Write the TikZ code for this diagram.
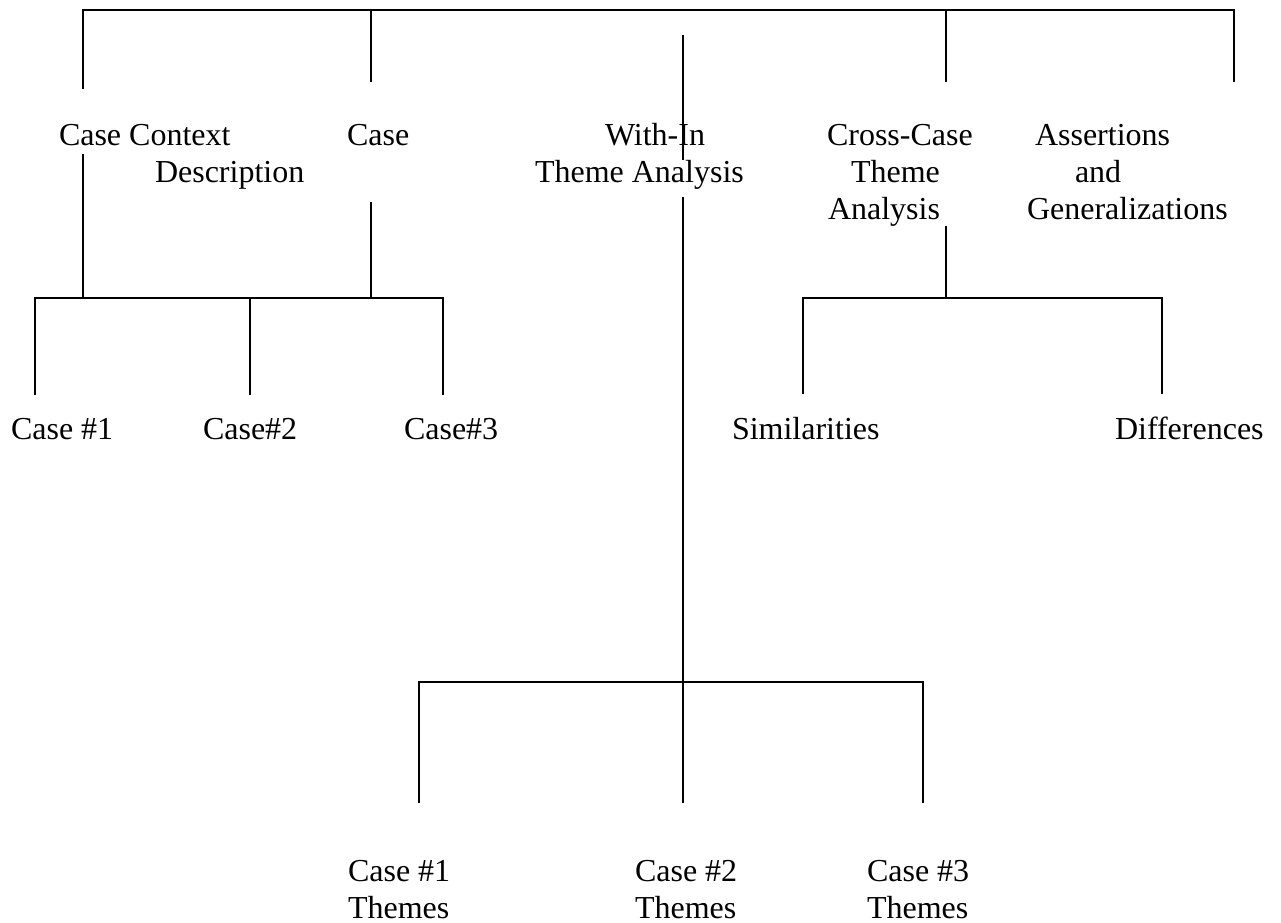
\documentclass[tikz,border=0pt]{standalone}
\usepackage{fontspec}
\setmainfont{Liberation Serif}
\begin{document}
\begin{tikzpicture}[x=0.5pt,y=-0.5pt,
  lbl/.style={anchor=base west, inner sep=0pt, outer sep=0pt, font=\fontsize{16pt}{18.5pt}\selectfont},
  link/.style={line width=1pt, line join=miter, line cap=butt}]
\useasboundingbox (0,0) rectangle (1281,922);

% ---------- labels ----------
\node[lbl] (ccd) at (59,145) {\begin{tabular}[t]{@{}l@{}}Case Context\\\hspace*{48pt}Description\end{tabular}};
\node[lbl] (case) at (347,145) {Case};
\node[lbl] (wita) at (535,145) {\begin{tabular}[t]{@{}l@{}}\hspace*{35pt}With-In\\Theme Analysis\end{tabular}};
\node[lbl] (ccta) at (827,145) {\begin{tabular}[t]{@{}l@{}}Cross-Case\\\hspace*{12pt}Theme\\\hspace*{0.5pt}Analysis\end{tabular}};
\node[lbl] (ag) at (1027,145) {\begin{tabular}[t]{@{}l@{}}\hspace*{4pt}Assertions\\\hspace*{24pt}and\\Generalizations\end{tabular}};

\node[lbl] (c1) at (11,439) {Case \#1};
\node[lbl] (c2) at (203,439) {Case\#2};
\node[lbl] (c3) at (404,439) {Case\#3};
\node[lbl] (sim) at (732,439) {Similarities};
\node[lbl] (dif) at (1115,439) {Differences};

\node[lbl] (t1) at (348,881) {\begin{tabular}[t]{@{}l@{}}Case \#1\\Themes\end{tabular}};
\node[lbl] (t2) at (635,881) {\begin{tabular}[t]{@{}l@{}}Case \#2\\Themes\end{tabular}};
\node[lbl] (t3) at (867,881) {\begin{tabular}[t]{@{}l@{}}Case \#3\\Themes\end{tabular}};

% ---------- connector end points ----------
\coordinate (topL) at (83,10);
\coordinate (topR) at (1234,10);
\coordinate (topCase) at (371,10);
\coordinate (topCC) at (946,10);
\coordinate (ccdUp) at (83,89);
\coordinate (caseUp) at (371,82);
\coordinate (ccUp) at (946,82);
\coordinate (agUp) at (1234,82);
\coordinate (wiUpA) at (683,35);
\coordinate (wiUpB) at (683,160);

\coordinate (ccdDown) at (83,154);
\coordinate (caseDown) at (371,202);
\coordinate (barL1) at (35,298);
\coordinate (barL2) at (250,298);
\coordinate (barL3) at (443,298);
\coordinate (c1Up) at (35,395);
\coordinate (c2Up) at (250,395);
\coordinate (c3Up) at (443,395);

\coordinate (ccDown) at (946,226);
\coordinate (barR1) at (803,298);
\coordinate (barR2) at (1162,298);
\coordinate (simUp) at (803,394);
\coordinate (difUp) at (1162,394);

\coordinate (wiDown) at (683,197);
\coordinate (barB1) at (419,682);
\coordinate (barB3) at (923,682);
\coordinate (t1Up) at (419,803);
\coordinate (t2Up) at (683,803);
\coordinate (t3Up) at (923,803);

% ---------- connectors ----------
\draw[link] (ccdUp) -- (topL) -- (topR) -- (agUp);
\draw[link] (topCase) -- (caseUp);
\draw[link] (topCC) -- (ccUp);
\draw[link] (wiUpA) -- (wiUpB);

\draw[link] (c1Up) -- (barL1) -- (barL3) -- (c3Up);
\draw[link] (ccdDown) -- (83,298);
\draw[link] (caseDown) -- (371,298);
\draw[link] (barL2) -- (c2Up);

\draw[link] (simUp) -- (barR1) -- (barR2) -- (difUp);
\draw[link] (ccDown) -- (946,298);

\draw[link] (t1Up) -- (barB1) -- (barB3) -- (t3Up);
\draw[link] (wiDown) -- (t2Up);
\end{tikzpicture}
\end{document}
